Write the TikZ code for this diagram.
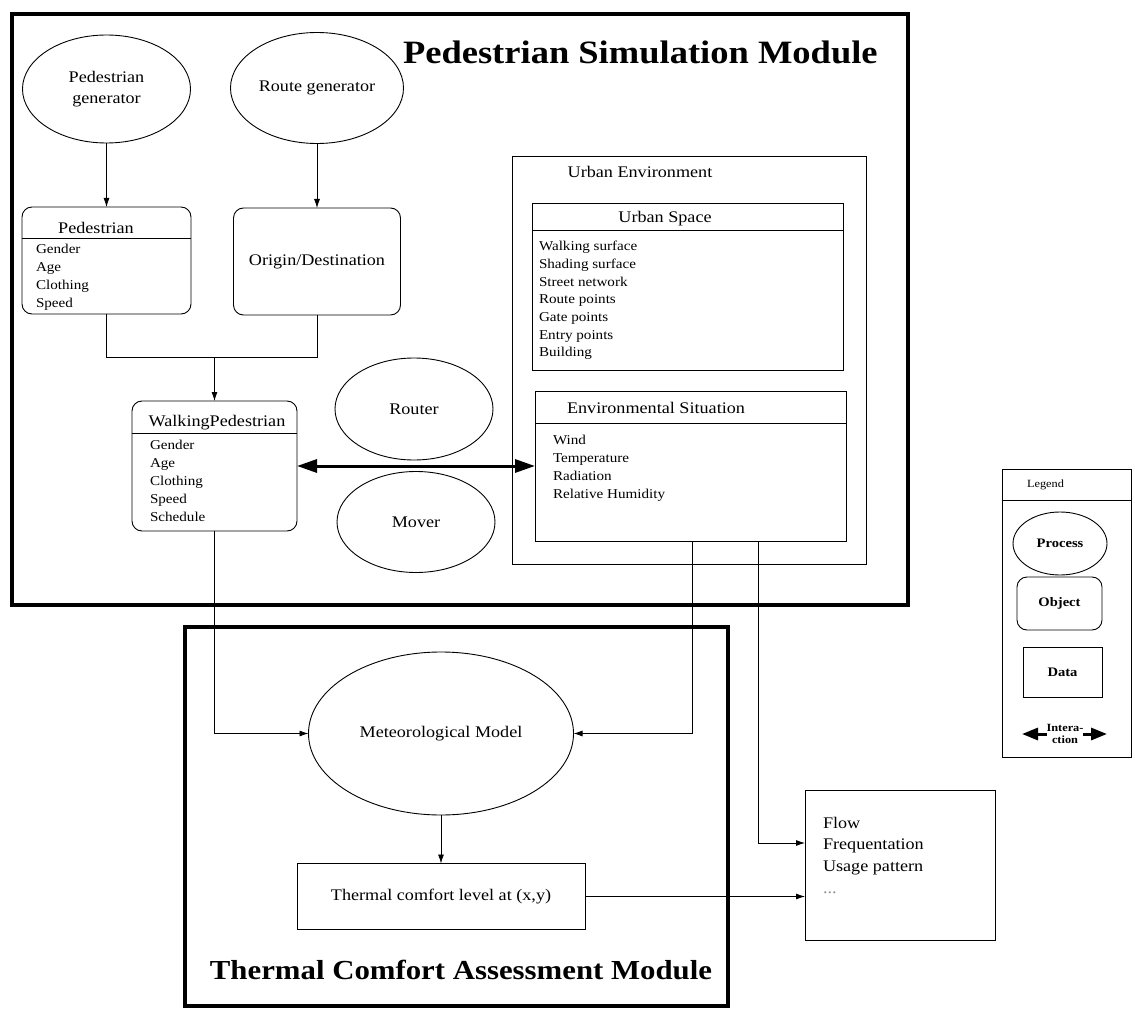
\documentclass[tikz,border=0pt]{standalone}
\usepackage{fontspec}
\setmainfont{Liberation Serif}[FakeStretch=1.12]
\usetikzlibrary{shapes.geometric,arrows.meta,calc}
\begin{document}
\begin{tikzpicture}[x=1pt,y=-1pt,
  every node/.style={inner sep=0pt, outer sep=0pt},
  modframe/.style={draw, line width=4.5pt, rectangle},
  process/.style={draw, line width=0.9pt, ellipse, align=center,
    font=\fontsize{16.2}{21}\selectfont},
  object/.style={draw, line width=0.9pt, rounded corners=10pt, rectangle},
  databox/.style={draw, line width=0.9pt, rectangle},
  boxtitle/.style={font=\fontsize{16.2}{20}\selectfont},
  item/.style={font=\fontsize{13.5}{17}\selectfont, anchor=base west},
  bigitem/.style={font=\fontsize{16.2}{20}\selectfont, anchor=base west},
  headline/.style={line width=0.9pt},
  plainline/.style={line width=0.8pt},
  flowline/.style={line width=0.8pt, -{Latex[length=9pt,width=6pt]}},
  interact/.style={line width=3pt,
    {Triangle[length=20pt,width=13pt]}-{Triangle[length=20pt,width=13pt]}},
  legendtip/.style={line width=3pt, -{Triangle[length=16pt,width=12pt]}},
  legendtxt/.style={font=\bfseries\fontsize{13}{15}\selectfont},
]
\useasboundingbox (0,0) rectangle (1135,1011);

% ---------- module frames ----------
\node[modframe, minimum width=896pt, minimum height=591pt] (psm) at (460,309.5) {};
\node[modframe, minimum width=543pt, minimum height=379pt] (tcam) at (456.5,816.5) {};
\node[font=\bfseries\fontsize{32.6}{36}\selectfont, anchor=west] (psmtitle) at (403,52)
  {Pedestrian Simulation Module};
\node[font=\bfseries\fontsize{27.5}{30}\selectfont] (tcamtitle) at (461,970)
  {Thermal Comfort Assessment Module};

% ---------- processes ----------
\node[process, minimum width=168pt, minimum height=108pt] (pgen) at (106.5,89) {Pedestrian\\generator};
\node[process, minimum width=173pt, minimum height=111pt] (rgen) at (317,88) {Route generator};
\node[process, minimum width=158pt, minimum height=102pt] (router) at (414,409) {Router};
\node[process, minimum width=158pt, minimum height=101pt] (mover) at (416,522) {Mover};
\node[process, minimum width=265pt, minimum height=163pt] (met) at (441,733.5) {Meteorological Model};

% ---------- Pedestrian object ----------
\node[object, minimum width=169pt, minimum height=107pt] (ped) at (106.5,260.5) {};
\draw[headline] (22,238) -- (191,238);
\node[boxtitle] (pedttl) at (96,228) {Pedestrian};
\foreach \t [count=\i] in {Gender,Age,Clothing,Speed}
  \node[item] (ped-\i) at (36,235.5+18*\i) {\t};

% ---------- Origin/Destination object ----------
\node[object, boxtitle, minimum width=167pt, minimum height=107pt] (od) at (317,261.5) {Origin/Destination};

% ---------- WalkingPedestrian object ----------
\node[object, minimum width=165pt, minimum height=130pt] (wp) at (214.5,466) {};
\draw[headline] (132,433) -- (297,433);
\node[boxtitle] (wpttl) at (217,423) {WalkingPedestrian};
\foreach \t [count=\i] in {Gender,Age,Clothing,Speed,Schedule}
  \node[item] (wp-\i) at (150,431+18*\i) {\t};

% ---------- Urban environment ----------
\node[databox, minimum width=354pt, minimum height=408pt] (uenv) at (689,360) {};
\node[boxtitle] (uenvttl) at (640,172) {Urban Environment};

\node[databox, minimum width=311pt, minimum height=167pt] (uspace) at (687.5,286.5) {};
\draw[headline] (532,230) -- (843,230);
\node[boxtitle] (uspacettl) at (665,219) {Urban Space};
\foreach \t [count=\i] in {Walking surface,Shading surface,Street network,Route points,Gate points,Entry points,Building}
  \node[item] (us-\i) at (539,233.4+17.6*\i) {\t};

\node[databox, minimum width=311pt, minimum height=150pt] (env) at (690.5,466) {};
\draw[headline] (535,423) -- (846,423);
\node[boxtitle] (envttl) at (656,408) {Environmental Situation};
\foreach \t [count=\i] in {Wind,Temperature,Radiation,Relative Humidity}
  \node[item] (env-\i) at (553,426+18*\i) {\t};

% ---------- thermal comfort data ----------
\node[databox, boxtitle, minimum width=288pt, minimum height=66pt] (tcl) at (441,896.5) {Thermal comfort level at (x,y)};

% ---------- output data ----------
\node[databox, minimum width=190pt, minimum height=150pt] (flow) at (900,865) {};
\foreach \t [count=\i] in {Flow,Frequentation,Usage pattern}
  \node[bigitem] (flow-\i) at (823,806.5+21.5*\i) {\t};
\node[bigitem, text=black!45] (flow-4) at (823,893) {...};

% ---------- legend ----------
\node[databox, minimum width=129pt, minimum height=288pt] (legend) at (1066.5,613) {};
\draw[headline] (1002,500) -- (1131,500);
\node[font=\fontsize{11}{13}\selectfont, anchor=west] (legendttl) at (1027,485) {Legend};
\node[draw, line width=0.9pt, ellipse, legendtxt, minimum width=94pt, minimum height=63pt] (lgproc) at (1060,543.5) {Process};
\node[object, legendtxt, minimum width=85pt, minimum height=53pt] (lgobj) at (1059.5,603.5) {Object};
\node[databox, legendtxt, minimum width=79pt, minimum height=50pt] (lgdata) at (1062.5,672) {Data};
\node[font=\bfseries\fontsize{11}{12}\selectfont, align=center] (lgint) at (1065,734) {Intera-\\ction};
\coordinate (lgL) at (1022,734);
\coordinate (lgR) at (1107,734);
\draw[legendtip] (lgint.west) -- (lgL);
\draw[legendtip] (lgint.east) -- (lgR);

% ---------- connectors ----------
\draw[flowline] (pgen.south) -- (ped.north);
\draw[flowline] (rgen.south) -- (od.north);
\coordinate (join) at (214.5,357);
\draw[plainline] (ped.south) -- (ped.south |- join) -- (od.south |- join) -- (od.south);
\draw[flowline] (join) -- (wp.north);

\draw[interact] (wp.east) -- (env.west);

\draw[flowline] (wp.south) |- (met.west);
\coordinate (envA) at (692,541);
\coordinate (envB) at (758,541);
\coordinate (flowA) at (805,843);
\draw[flowline] (envA) |- (met.east);
\draw[flowline] (envB) |- (flowA);
\draw[flowline] (met.south) -- (tcl.north);
\draw[flowline] (tcl.east) -- (tcl.east -| flow.west);
\end{tikzpicture}
\end{document}
